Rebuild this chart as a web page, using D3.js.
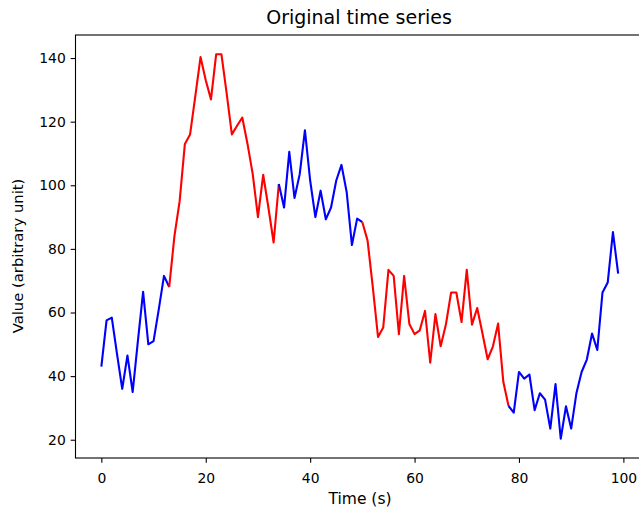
<!DOCTYPE html>
<html>
<head>
<meta charset="utf-8">
<script src="https://cdn.jsdelivr.net/npm/d3@7"></script>
<style>
    body { margin: 0; background: #fff; }
    svg { display: block; font-family: "DejaVu Sans", sans-serif; }
</style>
</head>
<body>
<div id="chart"></div>
<script>
// time (s) and value of each sample
var times = d3.range(0, 100);
var values = [
    43, 57.5, 58.4, 47, 36, 46.5, 35, 51, 66.5, 50,
    51, 61, 71.5, 68, 84, 95, 113, 116, 128, 140.3,
    133, 127, 141.2, 141.2, 129, 116, 118.7, 121.3, 113, 103.5,
    90, 103.3, 93, 82, 100.4, 93, 110.5, 96, 103.5, 117.3,
    101.5, 90, 98.3, 89.3, 93, 101.5, 106.4, 97.8, 81.2, 89.5,
    88.4, 82.6, 68, 52.3, 55.3, 73.4, 71.5, 53.2, 71.5, 56.4,
    53.2, 54.4, 60.5, 44.2, 59.5, 49.4, 56.2, 66.3, 66.3, 57,
    73.4, 56.2, 61.4, 53.5, 45.3, 49.3, 56.5, 38.2, 30.6, 28.5,
    41.3, 39.2, 40.5, 29.3, 34.6, 32.6, 23.5, 37.5, 20.3, 30.5,
    23.5, 34.6, 41.3, 45.2, 53.4, 48.2, 66.3, 69.4, 85.3, 72.2
];

// colored segments (index of first and last sample)
var segStart = [0, 13, 34, 50, 78];
var segEnd = [13, 34, 50, 78, 99];
var segColor = ["blue", "red", "blue", "red", "blue"];

var xTicks = [0, 20, 40, 60, 80, 100];
var yTicks = [20, 40, 60, 80, 100, 120, 140];

var width = 639,
    height = 513,
    plotLeft = 75.5,
    plotRight = 644,
    plotTop = 35,
    plotBottom = 458,
    tickLen = 4.86;

var svg = d3.select("#chart").append("svg")
    .attr("width", width)
    .attr("height", height);

// matplotlib style 5% margins
var xExt = d3.extent(times),
    yExt = d3.extent(values),
    xPad = (xExt[1] - xExt[0]) * 0.05,
    yPad = (yExt[1] - yExt[0]) * 0.05;

var x = d3.scaleLinear()
    .domain([xExt[0] - xPad, xExt[1] + xPad])
    .range([plotLeft, plotRight]);

var y = d3.scaleLinear()
    .domain([yExt[0] - yPad, yExt[1] + yPad])
    .range([plotBottom, plotTop]);

var line = d3.line()
    .x(function (d) { return x(d.t); })
    .y(function (d) { return y(d.v); });

// draw segments
for (var s = 0; s < segStart.length; s++) {
    var pts = [];
    for (var i = segStart[s]; i <= segEnd[s]; i++) {
        pts.push({ t: times[i], v: values[i] });
    }
    svg.append("path")
        .datum(pts)
        .attr("fill", "none")
        .attr("stroke", segColor[s])
        .attr("stroke-width", 2.1)
        .attr("stroke-linejoin", "round")
        .attr("d", line);
}

// axes
var xAxis = svg.append("g")
    .attr("transform", "translate(0," + plotBottom + ")")
    .call(d3.axisBottom(x).tickValues(xTicks).tickSize(tickLen).tickPadding(10).tickSizeOuter(0));

var yAxis = svg.append("g")
    .attr("transform", "translate(" + plotLeft + ",0)")
    .call(d3.axisLeft(y).tickValues(yTicks).tickSize(tickLen).tickPadding(4.86).tickSizeOuter(0));

[xAxis, yAxis].forEach(function (g) {
    g.select(".domain").remove();
    g.selectAll(".tick line").attr("stroke", "#000").attr("stroke-width", 1.1);
    g.selectAll(".tick text")
        .attr("fill", "#000")
        .attr("font-size", "13.9px")
        .attr("font-family", "DejaVu Sans, sans-serif");
});

// spines
svg.append("rect")
    .attr("x", plotLeft)
    .attr("y", plotTop)
    .attr("width", plotRight - plotLeft)
    .attr("height", plotBottom - plotTop)
    .attr("fill", "none")
    .attr("stroke", "#000")
    .attr("stroke-width", 1.1);

// title and labels
svg.append("text")
    .attr("x", 359)
    .attr("y", 24)
    .attr("text-anchor", "middle")
    .attr("font-size", "19px")
    .text("Original time series");

svg.append("text")
    .attr("x", 360)
    .attr("y", 504)
    .attr("text-anchor", "middle")
    .attr("font-size", "15.5px")
    .text("Time (s)");

svg.append("text")
    .attr("transform", "translate(23," + 256 + ") rotate(-90)")
    .attr("text-anchor", "middle")
    .attr("font-size", "14.8px")
    .text("Value (arbitrary unit)");
</script>
</body>
</html>
